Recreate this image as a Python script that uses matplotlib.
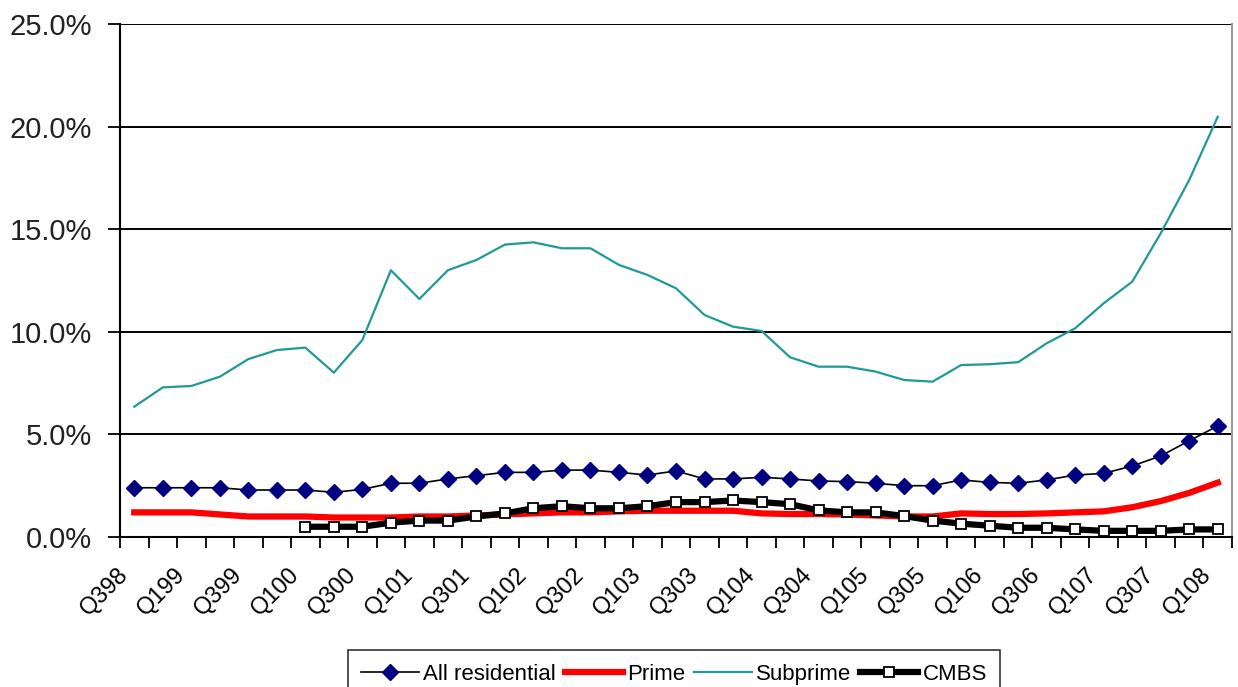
import numpy as np
import matplotlib
matplotlib.use("Agg")
import matplotlib.pyplot as plt
from matplotlib.ticker import FixedLocator, FuncFormatter

plt.rcParams['font.family'] = ['Liberation Sans', 'DejaVu Sans']

quarters = ["Q398", "Q498", "Q199", "Q299", "Q399", "Q499",
            "Q100", "Q200", "Q300", "Q400", "Q101", "Q201", "Q301", "Q401",
            "Q102", "Q202", "Q302", "Q402", "Q103", "Q203", "Q303", "Q403",
            "Q104", "Q204", "Q304", "Q404", "Q105", "Q205", "Q305", "Q405",
            "Q106", "Q206", "Q306", "Q406", "Q107", "Q207", "Q307", "Q407",
            "Q108"]

all_residential = [2.40, 2.40, 2.40, 2.40, 2.29, 2.29, 2.29, 2.18, 2.32, 2.62,
                   2.62, 2.83, 2.99, 3.15, 3.15, 3.26, 3.26, 3.15, 3.02, 3.22,
                   2.83, 2.83, 2.91, 2.83, 2.73, 2.70, 2.62, 2.50, 2.50, 2.78,
                   2.66, 2.62, 2.78, 3.02, 3.10, 3.46, 3.95, 4.69, 5.41]

prime = [1.20, 1.20, 1.20, 1.10, 1.00, 1.00, 1.00, 0.95, 0.95, 0.95,
         1.00, 1.00, 1.05, 1.10, 1.15, 1.20, 1.20, 1.25, 1.28, 1.28,
         1.28, 1.28, 1.15, 1.12, 1.12, 1.10, 1.05, 1.00, 1.00, 1.15,
         1.12, 1.12, 1.15, 1.20, 1.25, 1.45, 1.75, 2.15, 2.65]

subprime = [6.35, 7.29, 7.36, 7.81, 8.67, 9.11, 9.23, 8.01, 9.60, 13.00,
            11.60, 13.00, 13.50, 14.25, 14.36, 14.07, 14.07, 13.26, 12.77, 12.12,
            10.82, 10.25, 10.04, 8.76, 8.30, 8.30, 8.06, 7.65, 7.57, 8.38,
            8.42, 8.52, 9.44, 10.17, 11.39, 12.44, 14.80, 17.40, 20.48]

cmbs = [np.nan, np.nan, np.nan, np.nan, np.nan, np.nan,
        0.50, 0.50, 0.50, 0.70, 0.80, 0.80, 1.00, 1.15, 1.40, 1.50,
        1.40, 1.40, 1.50, 1.70, 1.70, 1.78, 1.70, 1.60, 1.30, 1.20,
        1.20, 1.02, 0.80, 0.65, 0.55, 0.45, 0.45, 0.37, 0.30, 0.30,
        0.30, 0.37, 0.37]

y_ticks = [0, 5, 10, 15, 20, 25]

fig = plt.figure(figsize=(12.38, 6.87), dpi=100)
ax = fig.add_axes([120/1238, 1-537/687, 1112/1238, 513/687])

x = np.arange(len(quarters))

ax.plot(x, all_residential, color='black', lw=1.2, marker='D', markersize=8.5,
        markerfacecolor='#000080', markeredgecolor='#000080', label='All residential', zorder=3)
ax.plot(x, prime, color='#ff0000', lw=4.5, label='Prime', zorder=3)
ax.plot(x, subprime, color='#1f9a96', lw=1.6, label='Subprime', zorder=3)
ax.plot(x, cmbs, color='black', lw=4.5, marker='s', markersize=7,
        markerfacecolor='white', markeredgecolor='black', markeredgewidth=1.3,
        label='CMBS', zorder=4)

ax.set_xlim(-0.5, len(quarters) - 0.5)
ax.set_ylim(0, 25)
ax.set_yticks(y_ticks)
ax.yaxis.set_major_formatter(FuncFormatter(lambda v, p: f"{v:.1f}%"))
ax.tick_params(axis='y', direction='out', length=9, width=1.3, pad=11, labelsize=21,
               labelcolor='#222222')
ax.yaxis.grid(True, color='black', lw=1.4)
ax.set_axisbelow(True)

# x ticks: tick marks at category boundaries, labels every 2nd category
ax.xaxis.set_major_locator(FixedLocator(np.arange(-0.5, len(quarters), 1.0)))
ax.xaxis.set_major_formatter(FuncFormatter(lambda v, p: ""))
ax.tick_params(axis='x', direction='out', length=8, width=1.3)
for i in range(0, len(quarters), 2):
    ax.annotate(quarters[i], xy=(i, 0), xycoords=('data', 'axes fraction'),
                xytext=(-7, -25), textcoords='offset points',
                rotation=45, ha='right', va='center', rotation_mode='anchor',
                fontsize=17, color='black')

for s in ['left', 'bottom']:
    ax.spines[s].set_color('black')
    ax.spines[s].set_linewidth(1.5)
ax.spines['top'].set_visible(False)
ax.spines['right'].set_color('#999999')
ax.spines['right'].set_linewidth(1.5)

leg = fig.legend(loc='lower center', bbox_to_anchor=(674/1238, -0.016), ncol=4,
                 fontsize=16, frameon=True, fancybox=False, edgecolor='black',
                 handlelength=2.6, handletextpad=0.2, columnspacing=0.4,
                 borderpad=0.6, numpoints=1, borderaxespad=0)
leg.get_frame().set_linewidth(1.2)

fig.savefig('out.png', dpi=100)
